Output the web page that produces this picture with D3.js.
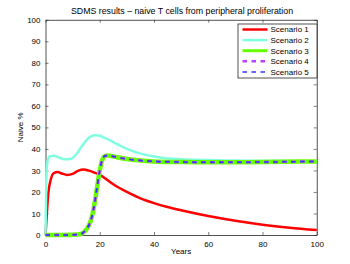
<!DOCTYPE html>
<html>
<head>
<meta charset="utf-8">
<script src="https://cdn.jsdelivr.net/npm/d3@7"></script>
<style>
  body { margin: 0; background: #fff; }
  svg text { font-family: "Liberation Sans", Arial, sans-serif; fill: #000; }
</style>
</head>
<body>
<svg></svg>
<script>
// values
const scenarioNames = ['Scenario 1', 'Scenario 2', 'Scenario 3', 'Scenario 4', 'Scenario 5'];

const years1 = [0, 0.5, 1, 2, 3, 4.5, 6, 8, 10, 12, 14, 16, 18, 20, 22, 25, 30, 35, 40, 45, 50, 60, 70, 80, 90, 100];
const naive1 = [0, 10, 19, 26, 28.7, 29.3, 28.6, 27.9, 28.4, 29.8, 30.4, 29.9, 29, 28, 26.3, 23.6, 20, 17, 14.8, 13, 11.5, 8.8, 6.6, 4.8, 3.4, 2.3];

const years2 = [0, 0.3, 0.7, 1.5, 3, 5, 7, 9, 11, 13, 15, 17, 18.5, 20, 22, 25, 30, 35, 40, 45, 50, 60, 70, 80, 90, 100];
const naive2 = [0, 25, 34, 36.5, 36.8, 36, 35.2, 35.3, 37, 40.5, 44, 46, 46.4, 46.1, 45, 43.2, 40, 37.8, 36.5, 35.6, 35.2, 34.8, 34.6, 34.5, 34.4, 34.3];

const years3 = [0, 5, 10, 13, 14, 15, 16, 17, 18, 19, 20, 21, 22, 23, 25, 30, 35, 40, 50, 60, 80, 100];
const naive3 = [0, 0, 0.1, 0.5, 1.2, 2.5, 4.5, 8, 14, 22, 30, 35.2, 36.8, 37, 36.5, 35.3, 34.6, 34.2, 33.9, 33.8, 33.9, 34.2];
// scenarios 4 and 5 sit on top of scenario 3
const naive4 = naive3.slice();
const naive5 = naive3.slice();

const xTicks = [0, 20, 40, 60, 80, 100];
const yTicks = [0, 10, 20, 30, 40, 50, 60, 70, 80, 90, 100];

const width = 350;
const height = 264;
const padLeft = 45.5, padRight = 316.75, padTop = 19.8, padBottom = 235;
const fontSize = '8px';

const series = [
  { name: scenarioNames[0], x: years1, y: naive1, color: '#ff0000', w: 2.5, dash: null },
  { name: scenarioNames[1], x: years2, y: naive2, color: '#80ffe0', w: 2.5, dash: null },
  { name: scenarioNames[2], x: years3, y: naive3, color: '#66ff00', w: 4.5, dash: null },
  { name: scenarioNames[3], x: years3, y: naive4, color: '#bf40ff', w: 2.5, dash: '4.5,4.5' },
  { name: scenarioNames[4], x: years3, y: naive5, color: '#3333ff', w: 1.5, dash: '4.5,4.5' }
];

const svg = d3.select('svg').attr('width', width).attr('height', height);

const xScale = d3.scaleLinear().domain([0, 100]).range([padLeft, padRight]);
const yScale = d3.scaleLinear().domain([0, 100]).range([padBottom, padTop]);

const drawAxes = () => {
  const axisColor = '#262626';

  const xAxis = svg.append('g')
    .attr('transform', 'translate(0,' + padBottom + ')')
    .call(d3.axisBottom(xScale).tickValues(xTicks).tickSizeInner(-3).tickSizeOuter(0).tickPadding(6));
  const yAxis = svg.append('g')
    .attr('transform', 'translate(' + padLeft + ',0)')
    .call(d3.axisLeft(yScale).tickValues(yTicks).tickSizeInner(-3).tickSizeOuter(0).tickPadding(5));
  const xTop = svg.append('g')
    .attr('transform', 'translate(0,' + padTop + ')')
    .call(d3.axisTop(xScale).tickValues(xTicks).tickSizeInner(-3).tickSizeOuter(0).tickFormat(''));
  const yRight = svg.append('g')
    .attr('transform', 'translate(' + padRight + ',0)')
    .call(d3.axisRight(yScale).tickValues(yTicks).tickSizeInner(-3).tickSizeOuter(0).tickFormat(''));

  [xAxis, yAxis, xTop, yRight].forEach(g => {
    g.select('.domain').attr('stroke', axisColor).attr('stroke-width', 0.8);
    g.selectAll('.tick line').attr('stroke', axisColor).attr('stroke-width', 0.6);
    g.selectAll('.tick text').style('font-size', fontSize).attr('fill', '#000');
  });

  svg.append('text')
    .attr('x', 182).attr('y', 13.5)
    .attr('text-anchor', 'middle')
    .style('font-size', '8.8px')
    .text('SDMS results \u2013 naive T cells from peripheral proliferation');

  svg.append('text')
    .attr('x', (padLeft + padRight) / 2).attr('y', 254)
    .attr('text-anchor', 'middle')
    .style('font-size', fontSize)
    .text('Years');

  svg.append('text')
    .attr('transform', 'translate(23,' + ((padTop + padBottom) / 2) + ') rotate(-90)')
    .attr('text-anchor', 'middle')
    .style('font-size', fontSize)
    .text('Naive %');
};

const drawLines = () => {
  const line = d3.line()
    .x(d => xScale(d[0]))
    .y(d => yScale(d[1]))
    .curve(d3.curveMonotoneX);

  svg.append('g')
    .selectAll('path')
    .data(series)
    .enter()
    .append('path')
    .attr('d', s => line(s.x.map((v, i) => [v, s.y[i]])))
    .attr('fill', 'none')
    .attr('stroke', s => s.color)
    .attr('stroke-width', s => s.w)
    .attr('stroke-dasharray', s => s.dash)
    .attr('stroke-linejoin', 'round');
};

const drawLegend = () => {
  const lx = 238, ly = 24, lw = 79, lh = 54;
  const legend = svg.append('g');
  legend.append('rect')
    .attr('x', lx).attr('y', ly)
    .attr('width', lw).attr('height', lh)
    .attr('fill', '#fff')
    .attr('stroke', '#262626')
    .attr('stroke-width', 0.8);

  const rows = legend.selectAll('g.row')
    .data(series)
    .enter()
    .append('g')
    .attr('class', 'row')
    .attr('transform', (s, i) => 'translate(0,' + (29.5 + i * 10.6) + ')');

  rows.append('line')
    .attr('x1', 242.5).attr('x2', 267.5)
    .attr('stroke', s => s.color)
    .attr('stroke-width', s => Math.min(s.w, 3))
    .attr('stroke-dasharray', s => s.dash);

  rows.append('text')
    .attr('x', 270.5).attr('y', 2.8)
    .style('font-size', fontSize)
    .text(s => s.name);
};

drawAxes();
drawLines();
drawLegend();
</script>
</body>
</html>
